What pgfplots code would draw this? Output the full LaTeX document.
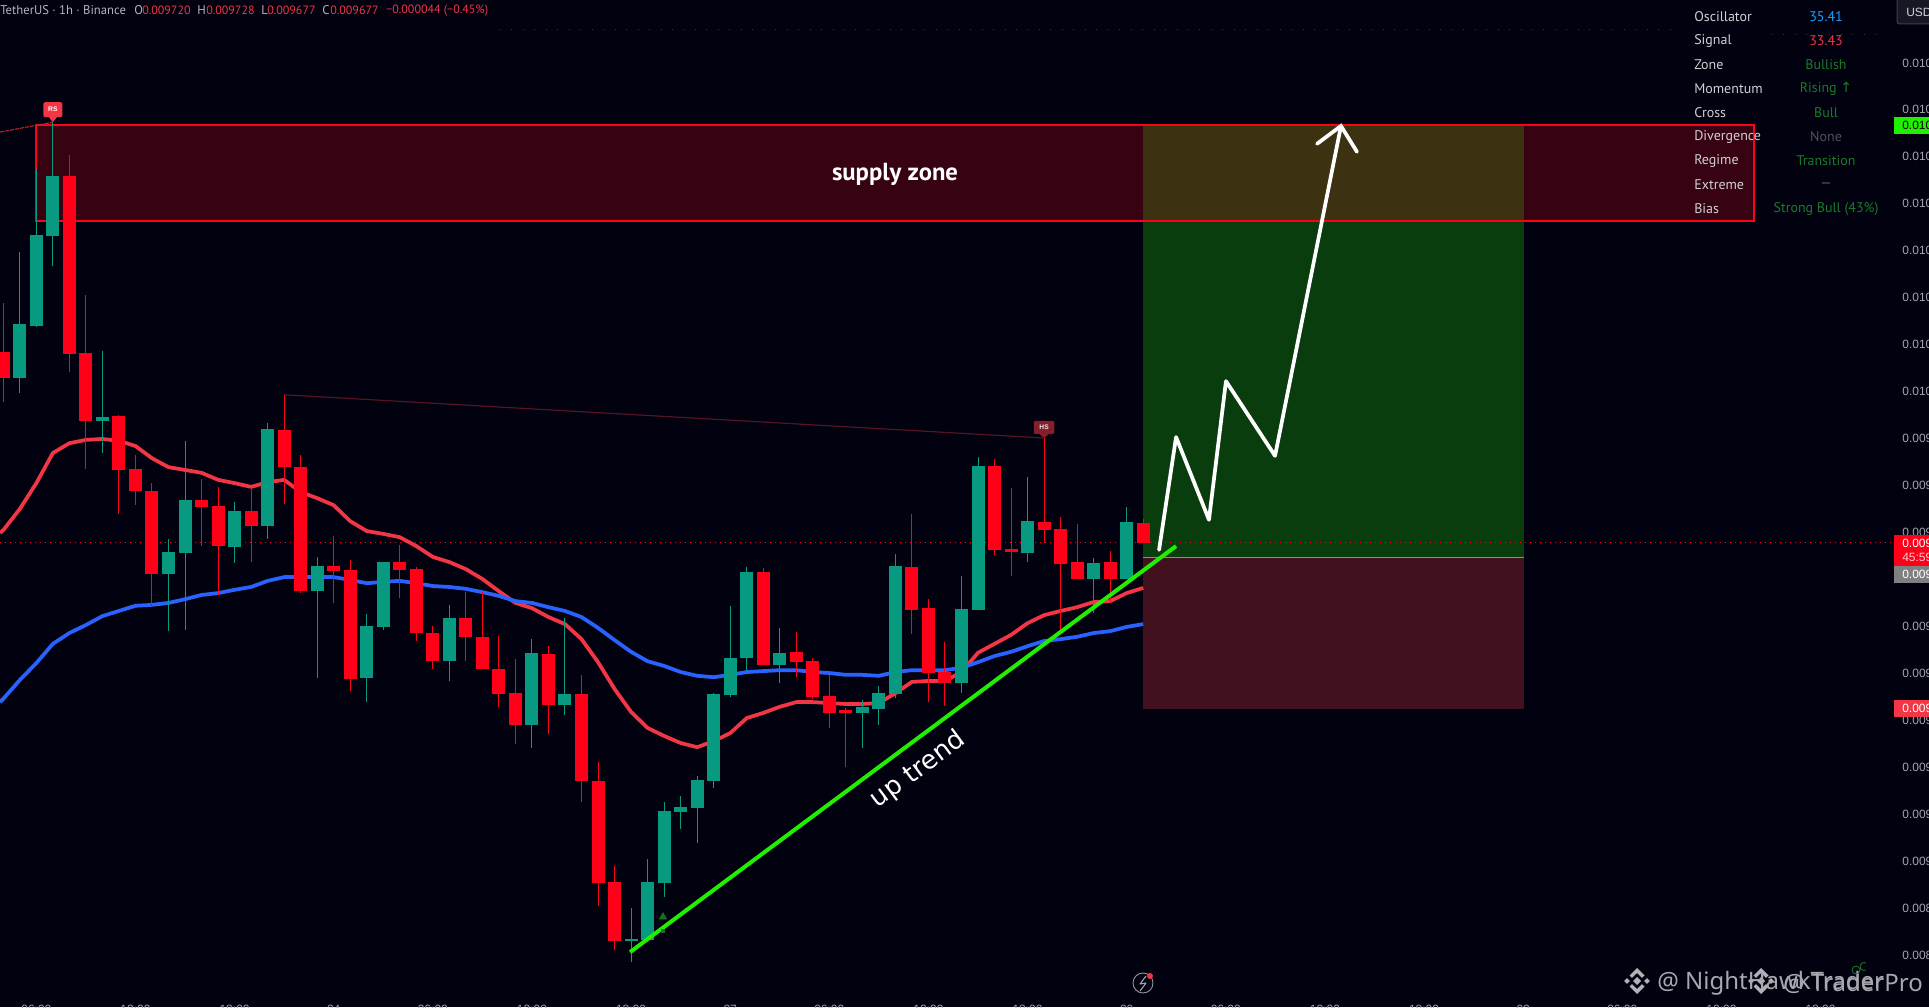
\documentclass[border=0pt]{standalone}
\usepackage{fontspec}
\setmainfont{PT Sans}
\newfontfamily\dejavu{DejaVu Sans}
\newfontfamily\libsans{Liberation Sans}
\newfontfamily\notosans{Noto Sans}
\usepackage{pgfplots}
\usepackage{pgfplotstable}
\pgfplotsset{compat=1.18}
\definecolor{bg}{HTML}{01010F}
\definecolor{up}{HTML}{089981}
\definecolor{dn}{HTML}{FF0018}
\definecolor{maR}{HTML}{F23645}
\definecolor{maB}{HTML}{2962FF}
\definecolor{supply}{HTML}{370313}
\definecolor{olive}{HTML}{3C3110}
\definecolor{tpz}{HTML}{0A3D0E}
\definecolor{slz}{HTML}{43101F}
\definecolor{axt}{HTML}{A3A6AF}
\definecolor{trend}{HTML}{22EE00}
\definecolor{tgreen}{HTML}{1B7A2B}
\definecolor{hdr}{HTML}{B2B5BE}
\definecolor{lab}{HTML}{D0D0D4}
% prices in millionths of a USDT
\pgfplotstableread{
i h t b l
1 10296 10143 10028 9996
2 10472 10332 10138 10136
3 10572 10458 10330 10266
6 10085 9945 9936 9868
10 9685 9657 9611 9489
11 9894 9768 9655 9491
14 9764 9745 9668 9634
16 9932 9919 9713 9685
19 9647 9628 9574 9389
22 9526 9500 9389 9338
23 9636 9636 9498 9491
27 9545 9517 9425 9383
32 9472 9443 9289 9240
34 9517 9355 9332 9311
38 8900 8834 8830 8785
39 9004 8955 8832 8828
40 9125 9106 8953 8923
41 9138 9115 9104 9068
42 9181 9172 9113 9038
43 9357 9355 9170 9155
44 9543 9432 9353 9349
45 9626 9615 9432 9402
47 9496 9443 9417 9379
52 9342 9328 9315 9240
53 9372 9357 9323 9289
54 9653 9628 9355 9347
58 9606 9536 9379 9357
59 9860 9840 9534 9534
62 9817 9723 9655 9636
66 9645 9634 9600 9528
68 9753 9721 9600 9600
}\upc
\pgfplotstableread{
i h t b l
0 10187 10083 10028 9977
4 10502 10458 10079 10040
5 10204 10081 9936 9834
7 9949 9947 9832 9738
8 9864 9834 9787 9757
9 9804 9787 9611 9543
12 9813 9768 9753 9670
13 9796 9755 9670 9566
15 9794 9745 9713 9636
17 9992 9917 9838 9760
18 9864 9838 9574 9570
20 9691 9628 9617 9549
21 9640 9619 9387 9362
24 9672 9636 9619 9560
25 9626 9621 9485 9468
26 9500 9485 9425 9408
28 9572 9517 9477 9425
29 9572 9477 9408 9408
30 9479 9408 9355 9328
31 9430 9357 9289 9249
33 9457 9440 9332 9270
35 9396 9355 9170 9125
36 9211 9170 8953 8904
37 8989 8955 8830 8810
46 9623 9615 9417 9417
48 9487 9445 9423 9391
49 9432 9425 9349 9345
50 9396 9351 9315 9283
51 9325 9321 9315 9200
55 9738 9626 9534 9483
56 9557 9538 9400 9338
57 9466 9402 9379 9330
60 9855 9840 9662 9651
61 9794 9664 9657 9606
63 9900 9721 9704 9677
64 9732 9706 9632 9491
65 9717 9636 9600 9600
67 9660 9636 9600 9549
69 9728 9720 9677 9677
}\dnc
\pgfplotstableread{
i r b
-0.2 9698 9338
0 9704 9345
1 9749 9385
2 9804 9421
3 9868 9462
4 9889 9485
5 9896 9502
6 9898 9521
7 9894 9532
8 9883 9543
9 9857 9545
10 9838 9549
11 9832 9557
12 9826 9566
13 9811 9570
14 9804 9577
15 9796 9583
16 9806 9596
17 9811 9604
18 9785 9604
19 9772 9604
20 9757 9604
21 9723 9598
22 9702 9591
23 9696 9594
24 9689 9596
25 9670 9591
26 9647 9585
27 9636 9583
28 9621 9579
29 9600 9572
30 9574 9564
31 9549 9553
32 9538 9549
33 9519 9540
34 9504 9532
35 9472 9519
36 9423 9496
37 9366 9470
38 9317 9445
39 9283 9425
40 9266 9415
41 9251 9402
42 9242 9394
43 9255 9391
44 9272 9396
45 9304 9402
46 9315 9404
47 9328 9406
48 9338 9406
49 9338 9402
50 9336 9400
51 9334 9396
52 9334 9396
53 9336 9394
54 9357 9402
55 9381 9406
56 9383 9406
57 9383 9406
58 9402 9411
59 9443 9423
60 9462 9436
61 9481 9445
62 9506 9457
63 9523 9468
64 9532 9472
65 9540 9477
66 9551 9485
67 9553 9489
68 9570 9498
69 9581 9504
}\mas
\newcommand{\binlogo}[2]{%
 \begin{scope}[shift={(#1,#2)}]
 \fill[lab!85!bg] (0,-4)--(4,0)--(0,4)--(-4,0)--cycle;
 \fill[lab!85!bg] (-10,-2.8)--(-7.2,0)--(-10,2.8)--(-12.8,0)--cycle;
 \fill[lab!85!bg] (10,-2.8)--(7.2,0)--(10,2.8)--(12.8,0)--cycle;
 \fill[lab!85!bg] (0,-13)--(7.5,-5.5)--(5,-3.2)--(0,-8)--(-5,-3.2)--(-7.5,-5.5)--cycle;
 \fill[lab!85!bg] (0,13)--(7.5,5.5)--(5,3.2)--(0,8)--(-5,3.2)--(-7.5,5.5)--cycle;
 \end{scope}}
\begin{document}
\begin{tikzpicture}
\path[use as bounding box] (0,0) rectangle (1446.75pt,755.25pt);
\clip (0,0) rectangle (1446.75pt,755.25pt);
\fill[bg] (0,0) rectangle (1446.75pt,755.25pt);
\begin{axis}[
  at={(0pt,5.25pt)}, anchor=south west,
  scale only axis, width=1420.5pt, height=750pt,
  xmin=-0.2, xmax=114.45, ymin=8704.1, ymax=10832.1,
  axis line style={draw=none}, tick style={draw=none},
  major tick length=0pt,
  yticklabel pos=right, xticklabel pos=bottom,
  ytick={8800,8900,9000,9100,9200,9300,9400,9500,9700,9800,9900,10000,10100,10200,10300,10400,10500,10600,10700},
  yticklabels={0.0088,0.0089,0.0090,0.0091,0.0092,0.0093,0.0094,0.0095,0.0097,0.0098,0.0099,0.0100,0.0101,0.0102,0.0103,0.0104,0.0105,0.0106,0.0107},
  yticklabel style={anchor=west, inner sep=0pt, xshift=6pt, yshift=-.6pt, text=axt, font=\libsans\fontsize{9}{10}\selectfont},
  xtick={2,8,14,20,26,32,38,44,50,56,62,68,74,80,86,92,98,104,110},
  xticklabels={06:00,12:00,18:00,24,06:00,12:00,18:00,27,06:00,12:00,18:00,30,06:00,12:00,18:00,02,06:00,12:00,18:00},
  xticklabel style={anchor=north, inner sep=0pt, yshift=-3.75pt, text=axt, font=\libsans\fontsize{9}{10}\selectfont},
]
% zones
\addplot[fill=supply,draw=none,forget plot] coordinates {(1.973,10361)(105.97,10361)(105.97,10566)(1.973,10566)} --cycle;
\addplot[fill=tpz,draw=none,forget plot] coordinates {(68.99,9645)(92.05,9645)(92.05,10361)(68.99,10361)} --cycle;
\addplot[fill=olive,draw=none,forget plot] coordinates {(68.99,10361)(92.05,10361)(92.05,10566)(68.99,10566)} --cycle;
\addplot[fill=slz,draw=none,forget plot] coordinates {(68.99,9323)(92.05,9323)(92.05,9645)(68.99,9645)} --cycle;
\addplot[draw=dn,line width=1.5pt,forget plot] coordinates {(1.973,10361)(105.97,10361)(105.97,10566)(1.973,10566)} --cycle;
\addplot[draw=white!55!bg,line width=.6pt,forget plot] coordinates {(68.99,9645)(92.05,9645)};
% price line and pattern lines
\addplot[draw=dn,line width=.75pt,dash pattern=on .75pt off 3pt,forget plot] coordinates {(-0.2,9677)(114.45,9677)};
\addplot[draw=maR!75!bg,line width=.8pt,dash pattern=on 3pt off .8pt,forget plot] coordinates {(-0.2,10551)(3,10572)};
\addplot[draw=maR!35!bg,line width=.9pt,forget plot] coordinates {(17,9992)(63,9900)};
% averages
\addplot[draw=maR,line width=2.8pt,line join=round,forget plot] table[x=i,y=r] {\mas};
\addplot[draw=maB,line width=2.8pt,line join=round,forget plot] table[x=i,y=b] {\mas};
% wicks
\addplot[draw=none,mark=none,forget plot,error bars/.cd,y dir=minus,y explicit,error mark=none,error bar style={draw=up,line width=.75pt}] table[x=i,y=h,y error minus expr=\thisrow{h}-\thisrow{l}] {\upc};
\addplot[draw=none,mark=none,forget plot,error bars/.cd,y dir=minus,y explicit,error mark=none,error bar style={draw=dn,line width=.75pt}] table[x=i,y=h,y error minus expr=\thisrow{h}-\thisrow{l}] {\dnc};
% bodies
\addplot[draw=none,mark=none,forget plot,error bars/.cd,y dir=minus,y explicit,error mark=none,error bar style={draw=up,line width=9.75pt}] table[x=i,y=t,y error minus expr=\thisrow{t}-\thisrow{b}] {\upc};
\addplot[draw=none,mark=none,forget plot,error bars/.cd,y dir=minus,y explicit,error mark=none,error bar style={draw=dn,line width=9.75pt}] table[x=i,y=t,y error minus expr=\thisrow{t}-\thisrow{b}] {\dnc};
% drawn annotations
\addplot[only marks,mark=triangle*,mark size=3.2pt,color=tgreen!90!black,forget plot] coordinates {(39.93,8881)};
\addplot[only marks,mark=square*,mark size=1.1pt,color=tgreen!90!black,forget plot] coordinates {(39.93,8851)};
\addplot[draw=trend,line width=3pt,forget plot] coordinates {(37.94,8806)(70.99,9670)};
\addplot[draw=white,line width=2.8pt,line cap=round,line join=round,forget plot] coordinates {(69.96,9662)(70.99,9902)(72.98,9726)(74.01,10021)(76.98,9862)(80.97,10564)};
\addplot[draw=white,line width=2.8pt,line cap=round,line join=miter,forget plot] coordinates {(79.52,10526)(80.97,10564)(81.94,10509)};
% pattern pins
\fill[maR] (axis cs:3,10572) -- ++(-3pt,3.75pt) -- ++(6pt,0pt) -- cycle;
\node[anchor=south,fill=maR,minimum width=14.25pt,minimum height=11.25pt,rounded corners=1.5pt,inner sep=0pt,text=white,font=\libsans\bfseries\fontsize{5}{5}\selectfont,yshift=3.6pt] at (axis cs:3,10572) {RS};
\fill[maR!55!bg] (axis cs:63,9900) -- ++(-3.5pt,3pt) -- ++(7pt,0pt) -- cycle;
\node[anchor=south,fill=maR!55!bg,minimum width=15.5pt,minimum height=9.75pt,rounded corners=1pt,inner sep=0pt,text=white!90!black,font=\libsans\bfseries\fontsize{5}{5}\selectfont,yshift=2.9pt] at (axis cs:63,9900) {HS};
\end{axis}
\begin{scope}[shift={(0pt,755.25pt)},x=0.75pt,y=-0.75pt]
\def\f{\fontsize{10.5}{11}\selectfont}
\def\h{\fontsize{9.5}{10}\selectfont}
\def\v{\fontsize{9}{10}\selectfont}
% faint dotted rows
\draw[hdr!28!bg,line width=.6pt,dash pattern=on .6pt off 8pt] (500,29) -- (1680,29);
\draw[hdr!28!bg,line width=.6pt,dash pattern=on .6pt off 8pt] (1772,34) -- (1880,34);
% header
\node[anchor=west,inner sep=0pt,text=hdr,font=\h] at (0,10.5) {TetherUS · 1h · Binance};
\node[anchor=west,inner sep=0pt,text=hdr,font=\h] at (134,10.5) {O};
\node[anchor=west,inner sep=0pt,text=maR,font=\v] at (142,10.5) {0.009720};
\node[anchor=west,inner sep=0pt,text=hdr,font=\h] at (197,10.5) {H};
\node[anchor=west,inner sep=0pt,text=maR,font=\v] at (206,10.5) {0.009728};
\node[anchor=west,inner sep=0pt,text=hdr,font=\h] at (261,10.5) {L};
\node[anchor=west,inner sep=0pt,text=maR,font=\v] at (267,10.5) {0.009677};
\node[anchor=west,inner sep=0pt,text=hdr,font=\h] at (322,10.5) {C};
\node[anchor=west,inner sep=0pt,text=maR,font=\v] at (330,10.5) {0.009677};
\node[anchor=west,inner sep=0pt,text=maR,font=\v] at (386,10.5) {−0.000044 (−0.45\%)};
% texts on the chart
\node[text=white,font=\bfseries\fontsize{18.5}{20}\selectfont,inner sep=0pt] at (895,174) {supply zone};
\node[text=white,font=\dejavu\fontsize{19.5}{21}\selectfont,inner sep=0pt,rotate=36.6] at (918,770) {up trend};
% table
\foreach \y/\t in {16/Oscillator,40/Signal,64/Zone,88/Momentum,112/Cross,136/Divergence,160/Regime,184/Extreme,208/Bias}
  \node[anchor=west,inner sep=0pt,text=lab,font=\f] at (1694,\y+1) {\t};
\node[inner sep=0pt,text=maB!60!cyan,font=\f] at (1826,17) {35.41};
\node[inner sep=0pt,text=maR,font=\f] at (1826,41) {33.43};
\node[inner sep=0pt,text=tgreen,font=\f] at (1826,65) {Bullish};
\node[inner sep=0pt,text=tgreen,font=\f] at (1826,89) {Rising {\dejavu↑}};
\node[inner sep=0pt,text=tgreen,font=\f] at (1826,113) {Bull};
\node[inner sep=0pt,text=hdr!45!bg,font=\f] at (1826,137) {None};
\node[inner sep=0pt,text=tgreen,font=\f] at (1826,161) {Transition};
\node[inner sep=0pt,text=hdr!55!bg,font=\f] at (1826,185) {—};
\node[inner sep=0pt,text=tgreen,font=\f] at (1826,209) {Strong Bull (43\%)};
% price scale labels
\def\g{\libsans\fontsize{9}{10}\selectfont}
\fill[bg!70!white!30!bg] (1897,-3) rectangle (1935,24);
\draw[hdr!35!bg,line width=.75pt,rounded corners=2pt] (1897,-3) rectangle (1935,24);
\node[anchor=west,inner sep=0pt,text=lab,font=\g] at (1906,12) {USDT};
\fill[trend!90!green] (1894,117) rectangle (1935,134);
\node[anchor=west,inner sep=0pt,text=black,font=\g] at (1902,125.5) {0.0106};
\fill[dn] (1894,535) rectangle (1935,566);
\node[anchor=west,inner sep=0pt,text=white,font=\g] at (1902,543) {0.0096};
\node[anchor=west,inner sep=0pt,text=white!80!dn,font=\g] at (1902,557.5) {45:59};
\fill[black!50!white] (1894,566) rectangle (1935,583);
\node[anchor=west,inner sep=0pt,text=white,font=\g] at (1902,574.5) {0.0096};
\fill[maR] (1894,700) rectangle (1935,717);
\node[anchor=west,inner sep=0pt,text=white,font=\g] at (1902,708.5) {0.0093};
% lightning icon
\draw[hdr!80!bg,line width=.7pt] (1143,983) circle (10);
\draw[hdr!90!bg,line width=.8pt,line join=round] (1146,976) -- (1140,984) -- (1146,983) -- (1140,991);
\fill[maR] (1150,976) circle (3);
% watermark
\binlogo{1637}{981}
\binlogo{1761}{981}
\node[anchor=west,inner sep=0pt,text=lab!80!bg,font=\notosans\fontsize{18}{20}\selectfont] at (1657,983) {@ NightHawkTrader};
\node[anchor=west,inner sep=0pt,text=lab!80!bg,font=\notosans\fontsize{18}{20}\selectfont] at (1783,983) {@ TraderPro};
\draw[tgreen,line width=.6pt] (1856,970) circle (4);
\draw[tgreen,line width=.6pt] (1866,970) arc (60:300:4);
\end{scope}
\end{tikzpicture}
\end{document}
